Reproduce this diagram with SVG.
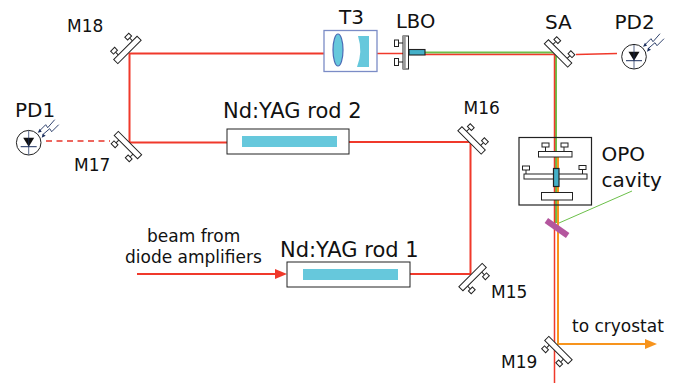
<svg xmlns="http://www.w3.org/2000/svg" width="675" height="383" viewBox="0 0 675 383">
<style>
text{font-family:"DejaVu Sans",sans-serif;fill:#111}
.s{font-size:17px}.m{font-size:20px}.l{font-size:21px}.b{font-size:17px}
.o{fill:#fff;stroke:#222;stroke-width:1}
.r{fill:none;stroke:#f0392b;stroke-width:2}
.t{fill:none;stroke:#f0392b;stroke-width:1.5}
.g{fill:none;stroke:#6cc04a;stroke-width:2}
.y{fill:none;stroke:#f7941d;stroke-width:2}
.c{fill:#66c8dc}
.n{fill:none;stroke:#1b2f5e;stroke-width:.9}
</style>
<defs>
<g id="mirror">
<path class="o" d="M-10-3V-7M10-3V-7"/>
<rect class="o" x="-12.800" y="-11" width="5.600" height="4"/>
<rect class="o" x="7.200" y="-11" width="5.600" height="4"/>
<rect class="o" x="-16.500" y="-3" width="33" height="5.800"/>
</g>
<g id="pd">
<circle r="12.300" fill="#fff" stroke="#222" stroke-width="1"/>
<path d="M-5.500-5H5.500L0 4Z" fill="#111"/>
<path d="M-8 4H8" stroke="#1b2f5e" stroke-width="1"/>
<path d="M0-12V12" stroke="#1b2f5e" stroke-width=".9" opacity=".8"/>
<path class="n" d="M11-12L17-18L19-15L26-23M14-8L21-14L23-11L30-18"/>
<path d="M9-10L13-11L11-14ZM13-5L17-7L14-9Z" fill="#1b2f5e"/>
</g>
<marker id="ar" markerUnits="userSpaceOnUse" markerWidth="12" markerHeight="10" refX="0" refY="5" orient="auto"><path d="M0 0L12 5L0 10Z" fill="#f0392b"/></marker>
<marker id="ao" markerUnits="userSpaceOnUse" markerWidth="12" markerHeight="10" refX="0" refY="5" orient="auto"><path d="M0 0L12 5L0 10Z" fill="#f7941d"/></marker>
</defs>
<g id="connectors">
<path class="r" d="M137 274H275" marker-end="url(#ar)"/>
<path class="r" d="M410 274H470.500V142H349"/>
<path class="r" d="M227 142.500H129.500V53.500H324"/>
<path class="t" d="M377 53.500H404"/>
<path d="M46 141H110" fill="none" stroke="#e8352a" stroke-width="1.400" stroke-dasharray="6 4.500"/>
<path class="t" d="M576 54.500L617 53.500"/>
<path class="g" d="M425 52.500H556V223"/>
<path class="t" d="M425 54.500H554.500V383"/>
<path class="y" d="M558 157V344H645" marker-end="url(#ao)"/>
<path d="M559 223L632 191" fill="none" stroke="#6cc04a" stroke-width="1"/>
</g>
<g id="M18"><use href="#mirror" transform="translate(127.500 50) rotate(-45)"/><text class="s" x="67" y="32">M18</text></g>
<g id="M17"><use href="#mirror" transform="translate(128 145) rotate(225)"/><text class="s" x="74" y="171">M17</text></g>
<g id="M16"><use href="#mirror" transform="translate(471.500 140.500) rotate(45)"/><text class="s" x="463.500" y="114">M16</text></g>
<g id="M15"><use href="#mirror" transform="translate(472.500 277) rotate(135)"/><text class="s" x="491" y="298">M15</text></g>
<g id="M19"><use href="#mirror" transform="translate(558.500 350) rotate(225)"/><text class="s" x="501" y="368">M19</text></g>
<g id="SA"><use href="#mirror" transform="translate(558 53.500) rotate(45)"/><text class="m" x="545" y="28.500">SA</text></g>
<g id="PD1"><use href="#pd" transform="translate(28.700 142.700)"/><text class="m" x="15" y="117">PD1</text></g>
<g id="PD2"><use href="#pd" transform="translate(634 56.700)"/><text class="m" x="614.500" y="28.500">PD2</text></g>
<g id="T3">
<rect x="324" y="30.500" width="53" height="41" fill="#fff" stroke="#7b8cc6" stroke-width="1.300"/>
<ellipse cx="338" cy="50" rx="5" ry="16" fill="#66c8dc" stroke="#4a6bb5" stroke-width="1.200"/>
<path class="c" d="M358 36H369V67H357Q363 52 358 36Z"/>
<text class="m" x="339" y="24">T3</text>
</g>
<g id="LBO">
<path class="o" d="M398 43H403M398 62H403"/>
<rect class="o" x="394.500" y="40" width="4" height="6.500"/>
<rect class="o" x="394.500" y="58.500" width="4" height="7"/>
<rect x="403" y="36" width="5.500" height="33" fill="#fff" stroke="#222" stroke-width="1"/>
<rect x="403" y="36" width="2.800" height="33" fill="#999"/>
<rect x="409" y="49.500" width="16" height="5.500" fill="#44b0c8" stroke="#222" stroke-width="1.100"/>
<text class="m" x="396" y="27.500" style="font-size:19.500px">LBO</text>
</g>
<g id="rod2">
<rect class="o" x="227" y="129" width="122" height="25"/>
<rect class="c" x="242" y="136" width="95" height="11"/>
<text class="l" x="223" y="118">Nd:YAG rod 2</text>
</g>
<g id="rod1">
<rect class="o" x="287" y="262" width="123" height="25"/>
<rect class="c" x="303" y="269" width="95" height="11"/>
<text class="l" x="280" y="256.500">Nd:YAG rod 1</text>
</g>
<g id="OPO">
<rect x="519" y="137.500" width="72.500" height="67.500" fill="none" stroke="#222" stroke-width="1.200"/>
<path class="o" d="M545.500 152V147M564 152V147M526 174V170M582.500 174V170"/>
<rect class="o" x="542" y="143" width="7" height="4"/>
<rect class="o" x="561" y="143" width="7" height="4"/>
<rect class="o" x="522.500" y="166" width="7" height="4"/>
<rect class="o" x="579" y="165.500" width="7" height="4"/>
<rect class="o" x="538.500" y="151.500" width="33.500" height="5.500"/>
<rect class="o" x="524" y="174" width="63" height="5"/>
<rect class="o" x="541.500" y="192.500" width="31" height="7.500"/>
<rect x="553.500" y="168.500" width="5.500" height="18" fill="#44b0c8" stroke="#222" stroke-width="1.200"/>
<text class="m" x="601.500" y="160.500">OPO</text>
<text class="m" x="601.500" y="186.500">cavity</text>
</g>
<rect id="filter" x="544" y="225" width="26" height="6" fill="#b4569e" transform="rotate(35 557 228)"/>
<text class="b" x="147" y="242">beam from</text>
<text class="b" x="125" y="263">diode amplifiers</text>
<text class="b" x="572" y="332">to cryostat</text>
</svg>
